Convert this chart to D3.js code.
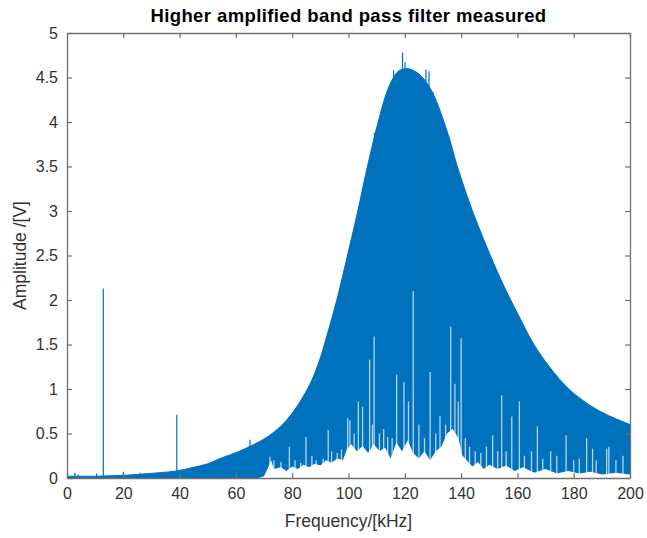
<!DOCTYPE html>
<html>
<head>
<meta charset="utf-8">
<script src="https://cdn.jsdelivr.net/npm/d3@7"></script>
<style>
    body { margin: 0; background: #fff; }
    svg { display: block; font-family: "Liberation Sans", Arial, sans-serif; }
</style>
</head>
<body>
<svg width="647" height="538"></svg>
<script>
// upper envelope of the measured spectrum
var envFreq = [0, 5, 10, 15, 20, 27, 33, 39, 45, 50, 54.4, 60.4, 66, 72, 78, 84, 87, 90, 92.7, 96, 100, 104, 106, 108.2, 109.4, 111.2, 113, 115.3, 117.7, 120.7, 123.6, 126, 129, 131.3, 133.7, 136, 138, 140, 142, 146, 150, 155, 160.2, 165.5, 171.6, 177.6, 183.3, 189.3, 195.4, 200];
var envAmp = [0.02, 0.02, 0.02, 0.025, 0.03, 0.045, 0.06, 0.08, 0.12, 0.16, 0.22, 0.29, 0.37, 0.48, 0.65, 0.92, 1.1, 1.35, 1.64, 2.02, 2.55, 3.1, 3.4, 3.7, 3.86, 4.08, 4.28, 4.46, 4.57, 4.6, 4.57, 4.51, 4.38, 4.23, 4.02, 3.8, 3.57, 3.37, 3.18, 2.84, 2.53, 2.17, 1.84, 1.52, 1.24, 1.02, 0.87, 0.75, 0.66, 0.6];

// lower edge of the solid band (minima of the spectrum)
var floorFreq = [0, 68, 70, 71.5, 72.5, 73.5, 76, 78, 80, 82, 84, 86, 88, 90, 92, 94, 96, 98, 99.5, 101, 103, 105, 107, 109, 111, 113, 115, 117, 119, 121, 123, 125, 127, 129, 131, 133, 135, 137, 139, 140.5, 142, 144, 146, 148, 150, 153, 156, 159, 162, 166, 170, 174, 178, 182, 186, 190, 195, 200];
var floorAmp = [0, 0, 0.02, 0.12, 0.2, 0.1, 0.12, 0.08, 0.13, 0.1, 0.15, 0.12, 0.16, 0.14, 0.2, 0.17, 0.22, 0.2, 0.33, 0.38, 0.3, 0.36, 0.28, 0.38, 0.3, 0.34, 0.22, 0.4, 0.3, 0.42, 0.28, 0.22, 0.3, 0.2, 0.3, 0.35, 0.5, 0.55, 0.45, 0.25, 0.2, 0.13, 0.18, 0.1, 0.15, 0.1, 0.14, 0.08, 0.12, 0.06, 0.1, 0.05, 0.08, 0.05, 0.07, 0.04, 0.06, 0.04];

// narrow dips reaching up into the band
var dipFreq = [72.1, 73.5, 76, 79, 81, 83, 84.9, 87, 88.5, 91, 92.8, 94, 96, 97.5, 99.7, 100.5, 102, 103.5, 105, 107.5, 108.5, 109.1, 111, 112.5, 113.9, 115.5, 117.1, 119.7, 121.3, 123, 125, 127, 129, 131, 132.5, 134.5, 136.3, 137.8, 139, 140, 141.5, 143, 145, 147, 149, 151.2, 153, 154.4, 156, 158, 160.7, 162.5, 165, 167.1, 169, 171.8, 174, 177.3, 180, 182, 184.6, 186.7, 188, 191.7, 192.5, 195, 197.5];
var dipAmp = [0.24, 0.2, 0.18, 0.35, 0.2, 0.17, 0.46, 0.25, 0.2, 0.22, 0.54, 0.3, 0.28, 0.32, 0.67, 0.65, 0.5, 0.86, 0.8, 1.33, 0.6, 1.59, 0.5, 0.55, 0.46, 0.45, 1.16, 1.08, 0.86, 2.1, 0.6, 0.45, 1.19, 0.5, 0.7, 0.6, 1.7, 1.06, 0.86, 1.57, 0.45, 0.35, 0.3, 0.28, 0.35, 0.48, 0.3, 0.93, 0.3, 0.69, 0.86, 0.25, 0.3, 0.58, 0.22, 0.3, 0.25, 0.48, 0.2, 0.22, 0.45, 0.33, 0.2, 0.33, 0.35, 0.2, 0.25];

// single peaks standing out of the envelope
var spikeFreq = [2.8, 4, 10.5, 12.9, 20, 26, 39, 65, 109.2, 116, 119.2, 120.1, 127.5, 128.6, 130];
var spikeAmp = [0.06, 0.04, 0.05, 2.13, 0.07, 0.06, 0.71, 0.43, 3.88, 4.58, 4.78, 4.67, 4.59, 4.57, 4.34];

var xTicks = [0, 20, 40, 60, 80, 100, 120, 140, 160, 180, 200];
var yTicks = [0, 0.5, 1, 1.5, 2, 2.5, 3, 3.5, 4, 4.5, 5];

var blue = "#0072bd";
var textColor = "#333";
var boxColor = "#707070";

function drawChart() {
    var margin = {top: 33, right: 17, bottom: 60, left: 67};
    var width = 647 - margin.left - margin.right;
    var height = 538 - margin.top - margin.bottom;

    var svg = d3.select("svg");
    var g = svg.append("g")
        .attr("transform", "translate(" + margin.left + "," + margin.top + ")");

    var x = d3.scaleLinear().domain([0, 200]).range([0, width]);
    var y = d3.scaleLinear().domain([0, 5]).range([height, 0]);

    g.append("clipPath").attr("id", "plotclip")
        .append("rect").attr("width", width).attr("height", height);

    var plot = g.append("g").attr("clip-path", "url(#plotclip)");

    var env = envFreq.map(function (f, i) { return {f: f, a: envAmp[i]}; });
    var flo = floorFreq.map(function (f, i) { return {f: f, a: floorAmp[i]}; });

    var area = d3.area()
        .x(function (d) { return x(d.f); })
        .y0(y(0))
        .y1(function (d) { return y(d.a); });

    plot.append("path").datum(env)
        .attr("fill", blue)
        .attr("stroke", blue)
        .attr("stroke-width", 1)
        .attr("d", area.curve(d3.curveMonotoneX));

    plot.selectAll(".spike")
        .data(spikeFreq)
        .enter()
        .append("line")
        .attr("x1", function (d) { return x(d); })
        .attr("x2", function (d) { return x(d); })
        .attr("y1", y(0))
        .attr("y2", function (d, i) { return y(spikeAmp[i]); })
        .attr("stroke", blue)
        .attr("stroke-width", 1.2);

    // white minima over the band
    plot.append("path").datum(flo)
        .attr("fill", "#fff")
        .attr("d", area.curve(d3.curveLinear));

    plot.selectAll(".dip")
        .data(dipFreq)
        .enter()
        .append("line")
        .attr("x1", function (d) { return x(d); })
        .attr("x2", function (d) { return x(d); })
        .attr("y1", y(0))
        .attr("y2", function (d, i) { return y(dipAmp[i]); })
        .attr("stroke", "#fff")
        .attr("stroke-opacity", 0.7)
        .attr("stroke-width", 1.3);

    // box with inward ticks on all four sides
    var axes = [
        d3.axisBottom(x).tickValues(xTicks).tickSizeInner(-5).tickSizeOuter(0),
        d3.axisTop(x).tickValues(xTicks).tickSizeInner(-5).tickSizeOuter(0).tickFormat(""),
        d3.axisLeft(y).tickValues(yTicks).tickSizeInner(-5).tickSizeOuter(0).tickFormat(d3.format("")),
        d3.axisRight(y).tickValues(yTicks).tickSizeInner(-5).tickSizeOuter(0).tickFormat("")
    ];
    var shifts = ["translate(0," + height + ")", "translate(0,0)", "translate(0,0)", "translate(" + width + ",0)"];

    axes.forEach(function (ax, i) {
        var a = g.append("g")
            .attr("transform", shifts[i])
            .call(ax);
        a.select(".domain").attr("stroke", boxColor).attr("stroke-width", 1.3);
        a.selectAll(".tick line").attr("stroke", boxColor).attr("stroke-width", 1.2);
        a.selectAll(".tick text")
            .attr("fill", textColor)
            .style("font-size", "16px")
            .style("font-family", "Liberation Sans, Arial, sans-serif");
        if (i === 0) a.selectAll(".tick text").attr("dy", "1.05em").attr("y", 4);
        if (i === 2) a.selectAll(".tick text").attr("x", -9);
    });

    svg.append("text")
        .attr("x", margin.left + width / 2)
        .attr("y", 22)
        .attr("text-anchor", "middle")
        .attr("fill", "#000")
        .style("font-size", "18.5px")
        .style("letter-spacing", "0.4px")
        .style("font-weight", "bold")
        .text("Higher amplified band pass filter measured");

    svg.append("text")
        .attr("x", margin.left + width / 2)
        .attr("y", 527)
        .attr("text-anchor", "middle")
        .attr("fill", textColor)
        .style("font-size", "17.5px")
        .text("Frequency/[kHz]");

    svg.append("text")
        .attr("transform", "translate(26," + (margin.top + height / 2) + ") rotate(-90)")
        .attr("text-anchor", "middle")
        .attr("fill", textColor)
        .style("font-size", "17.5px")
        .text("Amplitude /[V]");
}

drawChart();
</script>
</body>
</html>
